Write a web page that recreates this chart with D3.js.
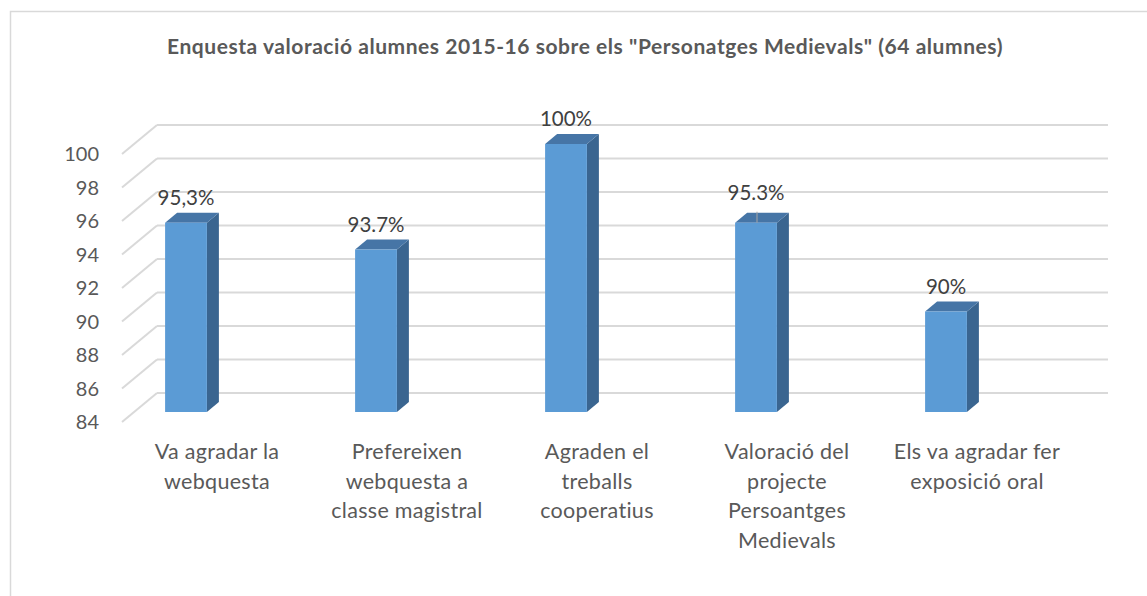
<!doctype html>
<html>
  <head>
    <meta charset="utf-8">
    <title>Enquesta valoració alumnes</title>
    <script src="https://d3js.org/d3.v7.min.js"></script>
    <style>
      body { margin: 0; background: #fff; }
      text { font-family: Lato, "Open Sans", sans-serif; }
    </style>
  </head>
  <body>
  <div id="chart"></div>
  <script>
    var title = 'Enquesta valoració alumnes 2015-16 sobre els "Personatges Medievals" (64 alumnes)';
    var categories = [
      "Va agradar la\nwebquesta",
      "Prefereixen\nwebquesta a\nclasse magistral",
      "Agraden el\ntreballs\ncooperatius",
      "Valoració del\nprojecte\nPersoantges\nMedievals",
      "Els va agradar fer\nexposició oral"
    ];
    var values = [95.3, 93.7, 100, 95.3, 90];
    var valueLabels = ["95,3%", "93.7%", "100%", "95.3%", "90%"];
    var yTicks = [84, 86, 88, 90, 92, 94, 96, 98, 100];

    var width = 1147, height = 596;

    var svg = d3.select("#chart").append("svg")
        .attr("width", width)
        .attr("height", height);

    // chart frame (runs off the right and bottom edge)
    svg.append("rect")
        .attr("x", 10.5).attr("y", 11.5)
        .attr("width", 1300).attr("height", 800)
        .attr("fill", "none")
        .attr("stroke", "#d9d9d9")
        .attr("stroke-width", 1.5);

    svg.append("text")
        .attr("x", 585).attr("y", 54)
        .attr("text-anchor", "middle")
        .attr("font-size", 21)
        .attr("letter-spacing", 0.55)
        .attr("font-weight", "bold")
        .attr("fill", "#595959")
        .text(title);

    // y in the plane of the bar fronts
    var y = d3.scaleLinear()
        .domain([84, 100])
        .range([412, 144]);

    var x = d3.scaleBand()
        .domain(categories)
        .range([91, 1041])
        .paddingInner(0.78)
        .paddingOuter(0.39);

    // 3d offsets
    var wallFront = {dx: -12, dy: 10},
        wallBack = {dx: 23, dy: -19},
        barDepth = {dx: 12, dy: -10},
        wallLeft = 134, wallRight = 1085;

    var grid = svg.append("g").attr("class", "grid");

    grid.selectAll(".back")
      .data(yTicks)
      .enter().append("line")
        .attr("class", "back")
        .attr("x1", wallLeft + wallBack.dx)
        .attr("x2", wallRight + wallBack.dx)
        .attr("y1", function(d){ return y(d) + wallBack.dy; })
        .attr("y2", function(d){ return y(d) + wallBack.dy; })
        .attr("stroke", "#d9d9d9")
        .attr("stroke-width", 2);

    grid.selectAll(".side")
      .data(yTicks)
      .enter().append("line")
        .attr("class", "side")
        .attr("x1", wallLeft + wallFront.dx)
        .attr("x2", wallLeft + wallBack.dx)
        .attr("y1", function(d){ return y(d) + wallFront.dy; })
        .attr("y2", function(d){ return y(d) + wallBack.dy; })
        .attr("stroke", "#d9d9d9")
        .attr("stroke-width", 2);

    svg.append("g").selectAll("text")
      .data(yTicks)
      .enter().append("text")
        .attr("x", 99)
        .attr("y", function(d){ return y(d) + wallFront.dy; })
        .attr("dy", "0.35em")
        .attr("text-anchor", "end")
        .attr("font-size", 20)
        .attr("fill", "#595959")
        .text(function(d){ return d; });

    var bw = x.bandwidth();
    var bars = svg.append("g").selectAll("g")
      .data(categories)
      .enter().append("g");

    bars.append("path")
        .attr("fill", "#3a6590")
        .attr("d", function(d, i){
          var x1 = x(d) + bw, t = y(values[i]), b = y(84);
          return "M" + x1 + "," + t + "L" + (x1 + barDepth.dx) + "," + (t + barDepth.dy) +
                 "L" + (x1 + barDepth.dx) + "," + (b + barDepth.dy) + "L" + x1 + "," + b + "Z";
        });

    bars.append("path")
        .attr("fill", "#4675a6")
        .attr("d", function(d, i){
          var x0 = x(d), x1 = x0 + bw, t = y(values[i]);
          return "M" + x0 + "," + t + "L" + (x0 + barDepth.dx) + "," + (t + barDepth.dy) +
                 "L" + (x1 + barDepth.dx) + "," + (t + barDepth.dy) + "L" + x1 + "," + t + "Z";
        });

    bars.append("rect")
        .attr("x", function(d){ return x(d); })
        .attr("y", function(d, i){ return y(values[i]); })
        .attr("width", bw)
        .attr("height", function(d, i){ return y(84) - y(values[i]); })
        .attr("fill", "#5b9bd5");

    // leader line under the 4th label
    svg.append("line")
        .attr("x1", x(categories[3]) + bw / 2 + 1).attr("x2", x(categories[3]) + bw / 2 + 1)
        .attr("y1", y(values[3]) - 11).attr("y2", y(values[3]))
        .attr("stroke", "#a6a6a6")
        .attr("stroke-width", 1);

    svg.append("g").selectAll("text")
      .data(categories)
      .enter().append("text")
        .attr("x", function(d){ return x(d) + bw / 2; })
        .attr("y", function(d, i){ return y(values[i]) - (i == 3 ? 23 : 18); })
        .attr("text-anchor", "middle")
        .attr("font-size", 20.5)
        .attr("fill", "#404040")
        .text(function(d, i){ return valueLabels[i]; });

    var cat = svg.append("g").selectAll("text")
      .data(categories)
      .enter().append("text")
        .attr("x", function(d){ return x(d) + bw / 2 + 31; })
        .attr("y", y(84) + 47)
        .attr("text-anchor", "middle")
        .attr("font-size", 21.5)
        .attr("letter-spacing", 0.3)
        .attr("fill", "#595959");

    cat.selectAll("tspan")
      .data(function(d){ return d.split("\n"); })
      .enter().append("tspan")
        .attr("x", function(){ return d3.select(this.parentNode).attr("x"); })
        .attr("dy", function(d, i){ return i ? 29.5 : 0; })
        .text(function(d){ return d; });
  </script>
  </body>
</html>
